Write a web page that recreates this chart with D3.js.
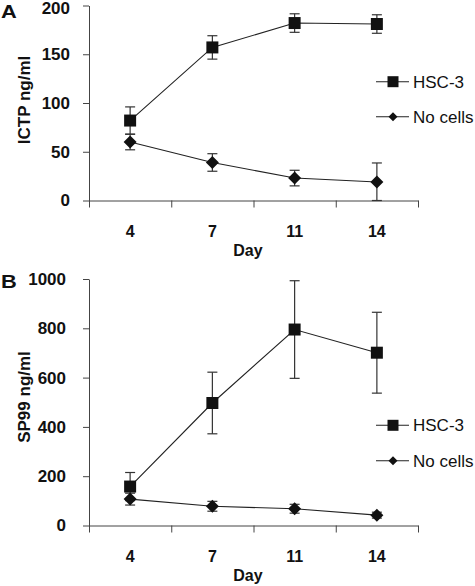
<!DOCTYPE html>
<html><head><meta charset="utf-8">
<script src="https://cdn.jsdelivr.net/npm/d3@7"></script>
<style>
html,body{margin:0;padding:0;background:#fff;}
svg{display:block;font-family:"Liberation Sans",Arial,sans-serif;}
</style></head>
<body>
<script>
const days = ["4","7","11","14"];
const seriesNames = ["HSC-3","No cells"];
// Panel A: ICTP ng/ml
const ictpHSC = [82, 157, 182, 181];
const ictpHSCErr = [14, 12, 9.5, 9.5];
const ictpNo = [60, 39, 23, 19];
const ictpNoErr = [8, 9, 8, 19.5];
const ictpTicks = [0, 50, 100, 150, 200];
// Panel B: SP99 ng/ml
const spHSC = [158, 497, 795, 701];
const spHSCErr = [57, 125, 198, 164];
const spNo = [107, 78, 68, 42];
const spNoErr = [24, 20, 18, 12];
const spTicks = [0, 200, 400, 600, 800, 1000];

const W = 475, H = 586;
const svg = d3.select("body").append("svg").attr("width", W).attr("height", H);
svg.append("rect").attr("width", W).attr("height", H).attr("fill", "#fff");

const x = d3.scaleBand().domain(days).range([89, 418]).padding(0);
const xb = d3.scaleLinear().domain([0, days.length]).range([89, 418]);

function diamond(r){ return `M0,${-r}L${r},0L0,${r}L${-r},0Z`; }
function square(s){ return `M${-s/2},${-s/2}h${s}v${s}h${-s}Z`; }

function panel(opt){
  const y = d3.scaleLinear().domain([opt.ticks[0], opt.ticks[opt.ticks.length-1]]).range([opt.y0, opt.y1]);
  const g = svg.append("g");
  // y axis
  const ya = g.append("g").attr("transform", "translate(89,0)")
    .call(d3.axisLeft(y).tickValues(opt.ticks).tickFormat(d3.format("d")).tickSize(6).tickPadding(opt.pad).tickSizeOuter(0));
  ya.select(".domain").attr("stroke", "#444");
  ya.selectAll(".tick line").attr("stroke", "#444");
  ya.selectAll("text").attr("font-size", 17).attr("font-weight", "bold").attr("fill", "#111")
    .attr("font-family", "Liberation Sans, Arial, sans-serif");
  if (opt.topShift) {
    ya.selectAll(".tick").filter(d => d === opt.ticks[opt.ticks.length-1]).select("text")
      .attr("y", opt.topShift);
  }
  // x axis
  const xa = g.append("g").attr("transform", `translate(0,${opt.y0})`)
    .call(d3.axisBottom(xb).tickValues(d3.range(days.length+1)).tickFormat("").tickSize(7).tickSizeOuter(0));
  xa.select(".domain").attr("stroke", "#444");
  xa.selectAll(".tick line").attr("stroke", "#444");
  g.selectAll(".xl").data(days).enter().append("text")
    .attr("x", d => x(d) + x.bandwidth()/2).attr("y", opt.y0 + 36.5)
    .attr("text-anchor", "middle").attr("font-size", 16).attr("font-weight", "bold").attr("fill", "#111")
    .text(d => d);
  g.append("text").attr("x", 248).attr("y", opt.y0 + 55.5).attr("text-anchor", "middle")
    .attr("font-size", 16).attr("font-weight", "bold").attr("fill", "#111").text("Day");
  // y title
  g.append("text").attr("transform", `translate(30,${opt.titleY}) rotate(-90)`)
    .attr("text-anchor", "middle").attr("font-size", 17).attr("font-weight", "bold").attr("fill", "#111")
    .text(opt.title);
  // panel letter
  g.append("text").attr("x", 1).attr("y", opt.letterY).attr("font-size", 19).attr("font-weight", "bold")
    .attr("fill", "#111").attr("transform", `translate(1,${opt.letterY}) scale(1.15,1) translate(-1,${-opt.letterY})`)
    .text(opt.letter);

  const cx = d => x(d) + x.bandwidth()/2;
  const series = [
    {vals: opt.hsc, err: opt.hscErr, shape: "sq"},
    {vals: opt.no, err: opt.noErr, shape: "di"}
  ];
  series.forEach(s => {
    const pts = days.map((d,i) => ({d, v: s.vals[i], e: s.err[i]}));
    const eg = g.append("g").attr("stroke", "#333").attr("stroke-width", 1.2);
    pts.forEach(p => {
      const lo = Math.max(p.v - p.e, opt.ticks[0]), hi = p.v + p.e;
      eg.append("line").attr("x1", cx(p.d)).attr("x2", cx(p.d)).attr("y1", y(lo)).attr("y2", y(hi));
      eg.append("line").attr("x1", cx(p.d)-5).attr("x2", cx(p.d)+5).attr("y1", y(lo)).attr("y2", y(lo));
      eg.append("line").attr("x1", cx(p.d)-5).attr("x2", cx(p.d)+5).attr("y1", y(hi)).attr("y2", y(hi));
    });
    g.append("path").datum(pts).attr("fill", "none").attr("stroke", "#222").attr("stroke-width", 1.1)
      .attr("d", d3.line().x(p => cx(p.d)).y(p => y(p.v)));
  });
  series.forEach(s => {
    days.forEach((d,i) => {
      g.append("path").attr("transform", `translate(${cx(d)},${y(s.vals[i])})`)
        .attr("d", s.shape === "sq" ? square(12) : diamond(6.5)).attr("fill", "#111");
    });
  });
  // legend
  const lg = g.append("g");
  seriesNames.forEach((n, i) => {
    const ly = opt.legY[i];
    lg.append("line").attr("x1", 376).attr("x2", 409).attr("y1", ly).attr("y2", ly).attr("stroke", "#222").attr("stroke-width", 1.1);
    lg.append("path").attr("transform", `translate(393,${ly})`).attr("d", i === 0 ? square(11) : diamond(4.5)).attr("fill", "#111");
    lg.append("text").attr("x", 413).attr("y", ly).attr("dy", "0.36em").attr("font-size", 17).attr("fill", "#111").text(n);
  });
}

panel({ticks: ictpTicks, y0: 200.5, y1: 5.5, pad: 13, topShift: 2.6, title: "ICTP ng/ml", titleY: 100, letter: "A", letterY: 18.5,
  hsc: ictpHSC, hscErr: ictpHSCErr, no: ictpNo, noErr: ictpNoErr, legY: [81.7, 116.7]});
panel({ticks: spTicks, y0: 525.5, y1: 279, pad: 17, title: "SP99 ng/ml", titleY: 397, letter: "B", letterY: 288.5,
  hsc: spHSC, hscErr: spHSCErr, no: spNo, noErr: spNoErr, legY: [425.3, 460.7]});
</script>
</body></html>
